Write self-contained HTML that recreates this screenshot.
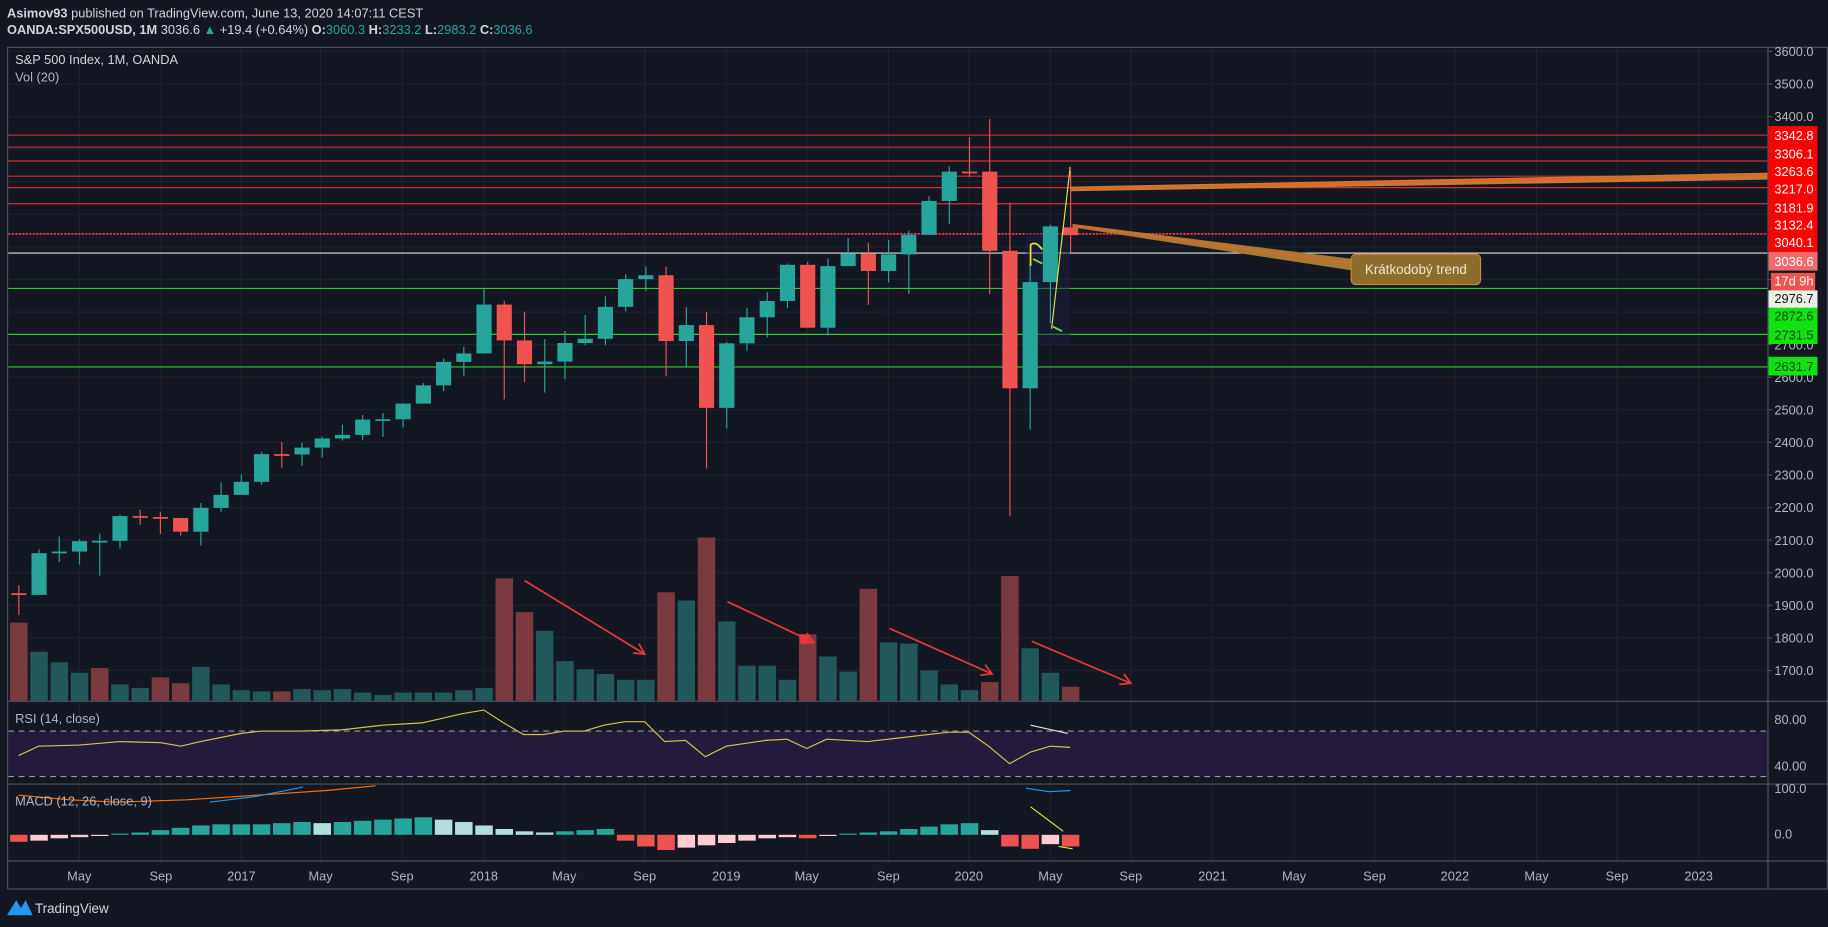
<!DOCTYPE html>
<html><head><meta charset="utf-8"><style>
html,body{margin:0;padding:0;background:#131722;overflow:hidden}
svg{display:block}
text{font-family:"Liberation Sans",sans-serif;}
</style></head><body>
<svg id="s" width="1828" height="927" viewBox="0 0 1568 795" xmlns="http://www.w3.org/2000/svg">
<rect width="1568" height="795" fill="#131722"/>
<g id="grid" stroke="#1f2331" stroke-width="1"></g>
<g id="hl"></g>
<g id="vol"></g>
<g id="cnd"></g>
<g id="ind"></g>
<g stroke="#50535e" fill="none" stroke-width="1">
<rect x="6.5" y="40.5" width="1561" height="722"/>
<line x1="1516.5" y1="40" x2="1516.5" y2="762"/>
<line x1="6" y1="601.5" x2="1568" y2="601.5"/>
<line x1="6" y1="672.5" x2="1568" y2="672.5"/>
<line x1="6" y1="738.5" x2="1568" y2="738.5"/>
</g>
<polygon points="918,160 1516,148 1516,154 918,164" fill="#c87a32"/>
<line x1="918" y1="162" x2="1516" y2="150" stroke="#e0662a" stroke-width="1.5"/>
<polygon points="920,192 1160,222 1160,232 920,195" fill="#a47a36"/>
<line x1="920" y1="193" x2="1160" y2="226" stroke="#e0662a" stroke-width="1.5"/>
<rect x="1159" y="218" width="111" height="26" rx="4" fill="#8d6d2c" stroke="#c08a3a"/>
<text x="1214.5" y="235" fill="#f0e6d0" font-size="11.5" text-anchor="middle">Krátkodobý trend</text>
<polyline points="902,282 918,143" stroke="#e8e040" fill="none" stroke-width="1"/>
<path d="M884,228 L884,210 Q888,206 894,214" stroke="#e8e040" fill="none" stroke-width="1.5"/>
<line x1="886" y1="222" x2="894" y2="226" stroke="#7ee040" stroke-width="1.5"/>
<line x1="903" y1="280" x2="911" y2="284" stroke="#7ee040" stroke-width="1.5"/>
<g stroke="#e53935" stroke-width="1.5" fill="none">
<line x1="450" y1="498" x2="553" y2="561"/><polyline points="543,560 553,561 548,552"/>
<line x1="624" y1="516" x2="698" y2="551"/><polyline points="688,552 698,551 692,543"/>
<line x1="763" y1="539" x2="851" y2="578"/><polyline points="841,579 851,578 845,570"/>
<line x1="885" y1="550" x2="970" y2="586"/><polyline points="960,587 970,586 964,578"/>
</g>
<rect x="686" y="544" width="8" height="8" fill="#e53935"/>
<text x="6" y="15" font-size="11" fill="#d1d4dc"><tspan font-weight="bold">Asimov93</tspan> published on TradingView.com, June 13, 2020 14:07:11 CEST</text>
<text x="6" y="29" font-size="11" fill="#d1d4dc"><tspan font-weight="bold">OANDA:SPX500USD, 1M</tspan> 3036.6 <tspan fill="#26a69a">▲</tspan> +19.4 (+0.64%) <tspan font-weight="bold">O:</tspan><tspan fill="#26a69a">3060.3</tspan> <tspan font-weight="bold">H:</tspan><tspan fill="#26a69a">3233.2</tspan> <tspan font-weight="bold">L:</tspan><tspan fill="#26a69a">2983.2</tspan> <tspan font-weight="bold">C:</tspan><tspan fill="#26a69a">3036.6</tspan></text>
<text x="13" y="55" font-size="11" fill="#d1d4dc">S&amp;P 500 Index, 1M, OANDA</text>
<text x="13" y="70" font-size="11" fill="#b2b5be">Vol (20)</text>
<text x="13" y="620" font-size="11" fill="#b2b5be">RSI (14, close)</text>
<text x="13" y="691" font-size="11" fill="#b2b5be">MACD (12, 26, close, 9)</text>
<g id="pax" font-size="11" fill="#b2b5be"></g>
<g font-size="11">
<rect x="1517" y="108" width="42" height="97" fill="#ff0000"/>
<g fill="#ffffff">
<text x="1522" y="120">3342.8</text><text x="1522" y="136">3306.1</text><text x="1522" y="151">3263.6</text>
<text x="1522" y="166">3217.0</text><text x="1522" y="182">3181.9</text><text x="1522" y="197">3132.4</text></g>
<rect x="1517" y="200" width="42" height="16" fill="#ff0000"/><text x="1522" y="212" fill="#fff">3040.1</text>
<rect x="1517" y="216" width="42" height="16" fill="#ef6b6b"/><text x="1522" y="228" fill="#fff">3036.6</text>
<rect x="1519" y="234" width="38" height="15" fill="#ef5350"/><text x="1522" y="245" fill="#fff">17d 9h</text>
<rect x="1517" y="249" width="42" height="15" fill="#e8f0e4"/><text x="1522" y="260" fill="#131722">2976.7</text>
<rect x="1517" y="264" width="42" height="31" fill="#11e011"/>
<text x="1522" y="275" fill="#0a4a0a">2872.6</text><text x="1522" y="291" fill="#0a4a0a">2731.5</text>
<rect x="1517" y="306" width="42" height="16" fill="#11e011"/><text x="1522" y="318" fill="#0a4a0a">2631.7</text>
<text x="1522" y="621" fill="#b2b5be">80.00</text>
<text x="1522" y="661" fill="#b2b5be">40.00</text>
<text x="1522" y="680" fill="#b2b5be">100.0</text>
<text x="1522" y="719" fill="#b2b5be">0.0</text>
</g>
<g font-size="11" fill="#b2b5be" text-anchor="middle">
<text x="68" y="755">May</text><text x="138" y="755">Sep</text><text x="207" y="755">2017</text>
<text x="275" y="755">May</text><text x="345" y="755">Sep</text><text x="415" y="755">2018</text>
<text x="484" y="755">May</text><text x="553" y="755">Sep</text><text x="623" y="755">2019</text>
<text x="692" y="755">May</text><text x="762" y="755">Sep</text><text x="831" y="755">2020</text>
<text x="901" y="755">May</text><text x="970" y="755">Sep</text><text x="1040" y="755">2021</text>
<text x="1110" y="755">May</text><text x="1179" y="755">Sep</text><text x="1248" y="755">2022</text>
<text x="1318" y="755">May</text><text x="1387" y="755">Sep</text><text x="1457" y="755">2023</text>
</g>
<path d="M6,785 L14,772 L18,779 L22,772 L28,785 Z" fill="#2196f3"/>
<text x="30" y="783" font-size="11.5" fill="#d1d4dc">TradingView</text>
</svg>
<script>
const NS="http://www.w3.org/2000/svg";
function el(p,t,a){const e=document.createElementNS(NS,t);for(const k in a)e.setAttribute(k,a[k]);document.getElementById(p).appendChild(e);return e;}
const Y=p=>44+(3600-p)*0.2795;
const X=i=>207+(i-11)*17.35;
const tx=[68,138,207,275,345,415,484,553,623,692,762,831,901,970,1040,1110,1179,1248,1318,1387,1457];
tx.forEach(x=>el("grid","line",{x1:x,y1:41,x2:x,y2:738}));
for(let p=1700;p<=3600;p+=100){const y=Y(p);el("grid","line",{x1:7,y1:y,x2:1516,y2:y});
 const t=el("pax","text",{x:1522,y:y+4});t.textContent=p.toFixed(1);
 el("pax","line",{x1:1516,y1:y,x2:1520,y2:y,stroke:"#50535e"});}
[3342.8,3306.1,3263.6,3217,3181.9,3132.4].forEach(p=>el("hl","line",{x1:7,y1:Y(p),x2:1516,y2:Y(p),stroke:"#d32f2f","stroke-width":1}));
el("hl","line",{x1:7,y1:Y(3040.1),x2:1516,y2:Y(3040.1),stroke:"#f23645","stroke-width":1.5,"stroke-dasharray":"2,1"});
el("hl","line",{x1:7,y1:217,x2:1516,y2:217,stroke:"#e0e0e0","stroke-width":1});
[2872.6,2731.5,2631.7].forEach(p=>el("hl","line",{x1:7,y1:Y(p),x2:1516,y2:Y(p),stroke:"#2ecc2e","stroke-width":1}));
el("hl","rect",{x:7,y:627,width:1509,height:39,fill:"#241a3c"});
el("hl","line",{x1:7,y1:627,x2:1516,y2:627,stroke:"#9598a1","stroke-dasharray":"5,4"});
el("hl","line",{x1:7,y1:666,x2:1516,y2:666,stroke:"#9598a1","stroke-dasharray":"5,4"});
el("hl","rect",{x:880,y:200,width:38,height:95,fill:"#1a2040",opacity:0.5});
const d=[[1937,1932,1962,1870],[1932,2060,2072,1931],[2060,2065,2111,2033],[2065,2097,2103,2025],[2097,2098,2120,1991],[2098,2174,2178,2074],[2174,2171,2193,2147],[2171,2168,2187,2119],[2168,2126,2169,2114],[2126,2199,2214,2084],[2199,2239,2277,2187],
[2239,2279,2301,2245],[2279,2364,2371,2271],[2364,2363,2401,2322],[2363,2384,2399,2328],[2384,2412,2418,2353],[2412,2423,2454,2405],[2423,2470,2484,2407],[2470,2471,2490,2417],[2471,2519,2520,2446],[2519,2575,2582,2520],[2575,2647,2657,2557],[2647,2673,2694,2605],
[2673,2823,2872,2682],[2823,2713,2835,2532],[2713,2640,2801,2585],[2640,2648,2717,2553],[2648,2705,2742,2594],[2705,2718,2791,2698],[2718,2816,2848,2698],[2816,2901,2916,2802],[2901,2913,2940,2864],[2913,2711,2939,2603],[2711,2760,2815,2631],[2760,2506,2800,2320],
[2506,2704,2708,2443],[2704,2784,2813,2681],[2784,2834,2861,2722],[2834,2945,2949,2812],[2945,2752,2954,2750],[2752,2941,2964,2728],[2941,2980,3027,2952],[2980,2926,3013,2822],[2926,2977,3021,2891],[2977,3037,3050,2855],[3037,3141,3156,3050],[3141,3231,3247,3070],
[3231,3228,3337,3214],[3231,2988,3393,2855],[2988,2566,3136,2174],[2566,2892,2954,2440],[2892,3063,3068,2766],[3060,3036,3233,2983]];
d.forEach((c,k)=>{const x=X(k);const up=c[1]>=c[0];const col=up?"#26a69a":"#ef5350";
 el("cnd","line",{x1:x,y1:Y(c[2]),x2:x,y2:Y(c[3]),stroke:col,"stroke-width":1});
 const t=Y(Math.max(c[0],c[1])),b=Y(Math.min(c[0],c[1]));
 el("cnd","rect",{x:x-6.5,y:t,width:13,height:Math.max(1.5,b-t),fill:col});});
const v=[534,559,568,577,573,587,590,581,586,572,587,592,593,593,591,592,591,594,596,594,594,594,592,590,496,525,541,567,574,578,583,583,508,515,461,533,571,571,583,544,563,576,505,551,552,575,587,592,585,494,556,577,589];
const vr=new Set([0,4,7,8,13,24,25,32,34,39,42,48,49,52]);
v.forEach((t,k)=>{const x=X(k);el("vol","rect",{x:x-7.5,y:t,width:15,height:601-t,fill:vr.has(k)?"#7a3a40":"#21585a"});});
const r=[[16,648],[33,640],[68,639],[103,636],[138,637],[155,640],[172,636],[207,629],[224,627],[258,627],[293,626],[328,622],[362,620],[397,612],[415,609],[432,620],[449,630],[466,630],[484,627],[501,627],[518,622],[536,619],[553,619],[570,636],[588,635],[605,649],[623,640],[657,635],[675,634],[692,642],[709,634],[744,636],[762,634],[796,630],[814,628],[831,628],[848,640],[866,655],[884,645],[901,640],[918,641]];
el("ind","polyline",{points:r.map(p=>p.join(",")).join(" "),fill:"none",stroke:"#d4c44a","stroke-width":1});
el("ind","line",{x1:884,y1:622,x2:916,y2:629,stroke:"#e0e0e0","stroke-width":1});
const m=[-14,-12,-11,-9,-8,-6,-5,-3,-2,-1,1,2,4,6,8,9,9,9,10,11,10,11,12,13,14,15,13,11,8,5,3,2,3,4,5,-5,-10,-13,-11,-9,-7,-5,-3,-2,-3,-1,1,2,3,5,7,9,10,4,-10,-12,-8,-10];
const mm=m.slice(m.length-53);
mm.forEach((h,k)=>{const x=X(k);const prev=k?mm[k-1]:h;let col;
 if(h>=0)col=h>=prev?"#26a69a":"#b2dfdb";else col=h<=prev?"#ef5350":"#ffcdd2";
 const y=h>=0?716-h:716;el("ind","rect",{x:x-7.5,y:y,width:15,height:Math.max(1,Math.abs(h)),fill:col});});
el("ind","polyline",{points:"16,682 60,686 100,688 160,686 220,682 280,678 322,674",fill:"none",stroke:"#ff6d00","stroke-width":1});
el("ind","polyline",{points:"180,688 220,683 260,675",fill:"none",stroke:"#2196f3","stroke-width":1});
el("ind","polyline",{points:"880,676 900,679 918,678",fill:"none",stroke:"#2196f3","stroke-width":1});
el("ind","line",{x1:884,y1:692,x2:912,y2:713,stroke:"#e8e040","stroke-width":1});
el("ind","line",{x1:908,y1:726,x2:920,y2:728,stroke:"#e8e040","stroke-width":1});
</script>
</body></html>
